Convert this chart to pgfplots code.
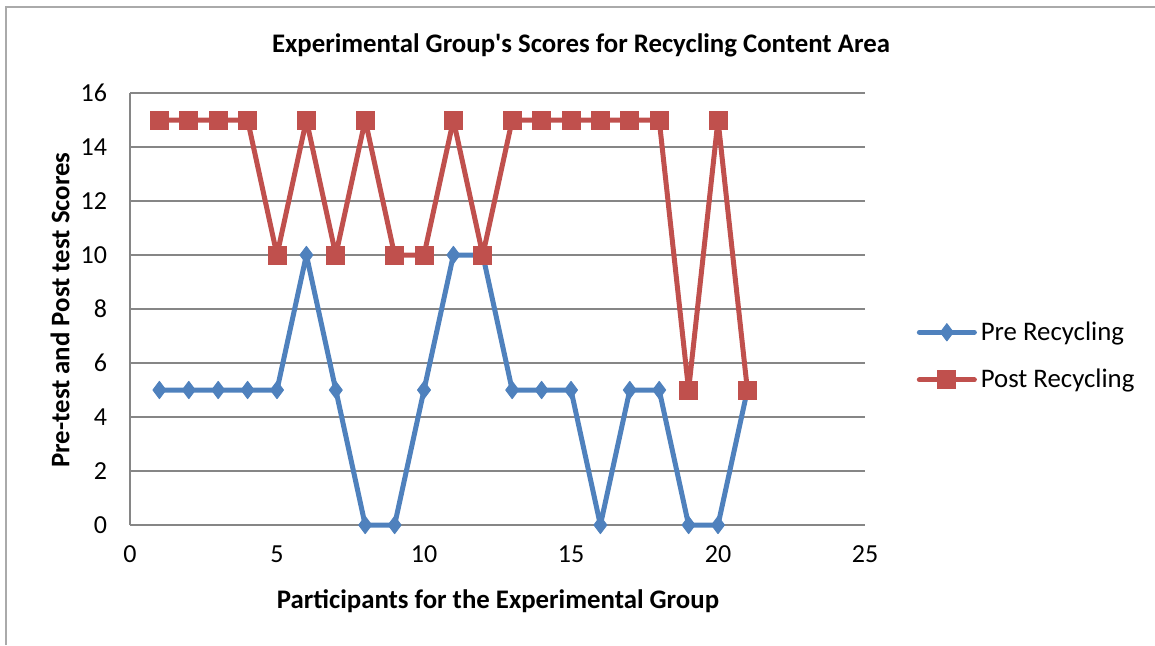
\documentclass[border=0pt]{standalone}
\usepackage{pgfplots}
\pgfplotsset{compat=1.18}
\usepackage{fontspec}
\setmainfont{Carlito}
\definecolor{preblue}{HTML}{4F81BD}
\definecolor{postred}{HTML}{C0504D}
\definecolor{gridgray}{HTML}{868686}
\begin{document}
\begin{tikzpicture}[x=1pt,y=1pt]
\useasboundingbox (0,0) rectangle (577.5,322.5);
\draw[gridgray!70, line width=0.8pt] (3,0) -- (3,319) -- (577.5,319);
\node[font=\fontsize{13.4}{16}\selectfont\bfseries] at (290.5,300) {Experimental Group\textquotesingle s Scores for Recycling Content Area};
\node[font=\fontsize{13.4}{16}\selectfont\bfseries] at (249,22) {Participants for the Experimental Group};
\node[font=\fontsize{13.4}{16}\selectfont\bfseries, rotate=90] at (30,167.5) {Pre-test and Post test Scores};
\begin{axis}[
  at={(65pt,60pt)}, anchor=origin,
  scale only axis, width=367.5pt, height=216pt,
  xmin=0, xmax=25, ymin=0, ymax=16,
  xtick={0,5,10,15,20,25}, ytick={0,2,4,6,8,10,12,14,16},
  axis x line*=bottom, axis y line*=left,
  axis line style={gridgray, line width=0.9pt, -},
  ymajorgrids, grid style={gridgray, line width=0.9pt},
  major tick length=0pt,
  tick label style={font=\fontsize{13}{15}\selectfont},
  /pgf/number format/assume math mode=true,
  xticklabel style={yshift=-7pt},
  yticklabel style={xshift=-8pt},
  clip=false,
  legend style={at={(1.070,0.391)}, anchor=west, draw=none, fill=none,
    font=\fontsize{13.4}{16}\selectfont, row sep=9pt, inner sep=0pt},
  legend cell align=left,
  legend image code/.code={\draw[#1, mark repeat=2, mark phase=2] plot coordinates {(0pt,0pt)(13.75pt,0pt)(27.5pt,0pt)};},
]
\addplot[preblue, line width=2.5pt, line join=round, line cap=round, mark=diamond*, mark size=4.3pt, mark options={solid, line width=0.5pt}] coordinates {
(1,5)(2,5)(3,5)(4,5)(5,5)(6,10)(7,5)(8,0)(9,0)(10,5)(11,10)(12,10)(13,5)(14,5)(15,5)(16,0)(17,5)(18,5)(19,0)(20,0)(21,5)};
\addlegendentry{Pre Recycling}
\addplot[postred, line width=2.5pt, line join=round, line cap=round, mark=square*, mark size=4.5pt, mark options={solid, line width=0.5pt, line join=miter}] coordinates {
(1,15)(2,15)(3,15)(4,15)(5,10)(6,15)(7,10)(8,15)(9,10)(10,10)(11,15)(12,10)(13,15)(14,15)(15,15)(16,15)(17,15)(18,15)(19,5)(20,15)(21,5)};
\addlegendentry{Post Recycling}
\end{axis}
\end{tikzpicture}
\end{document}
